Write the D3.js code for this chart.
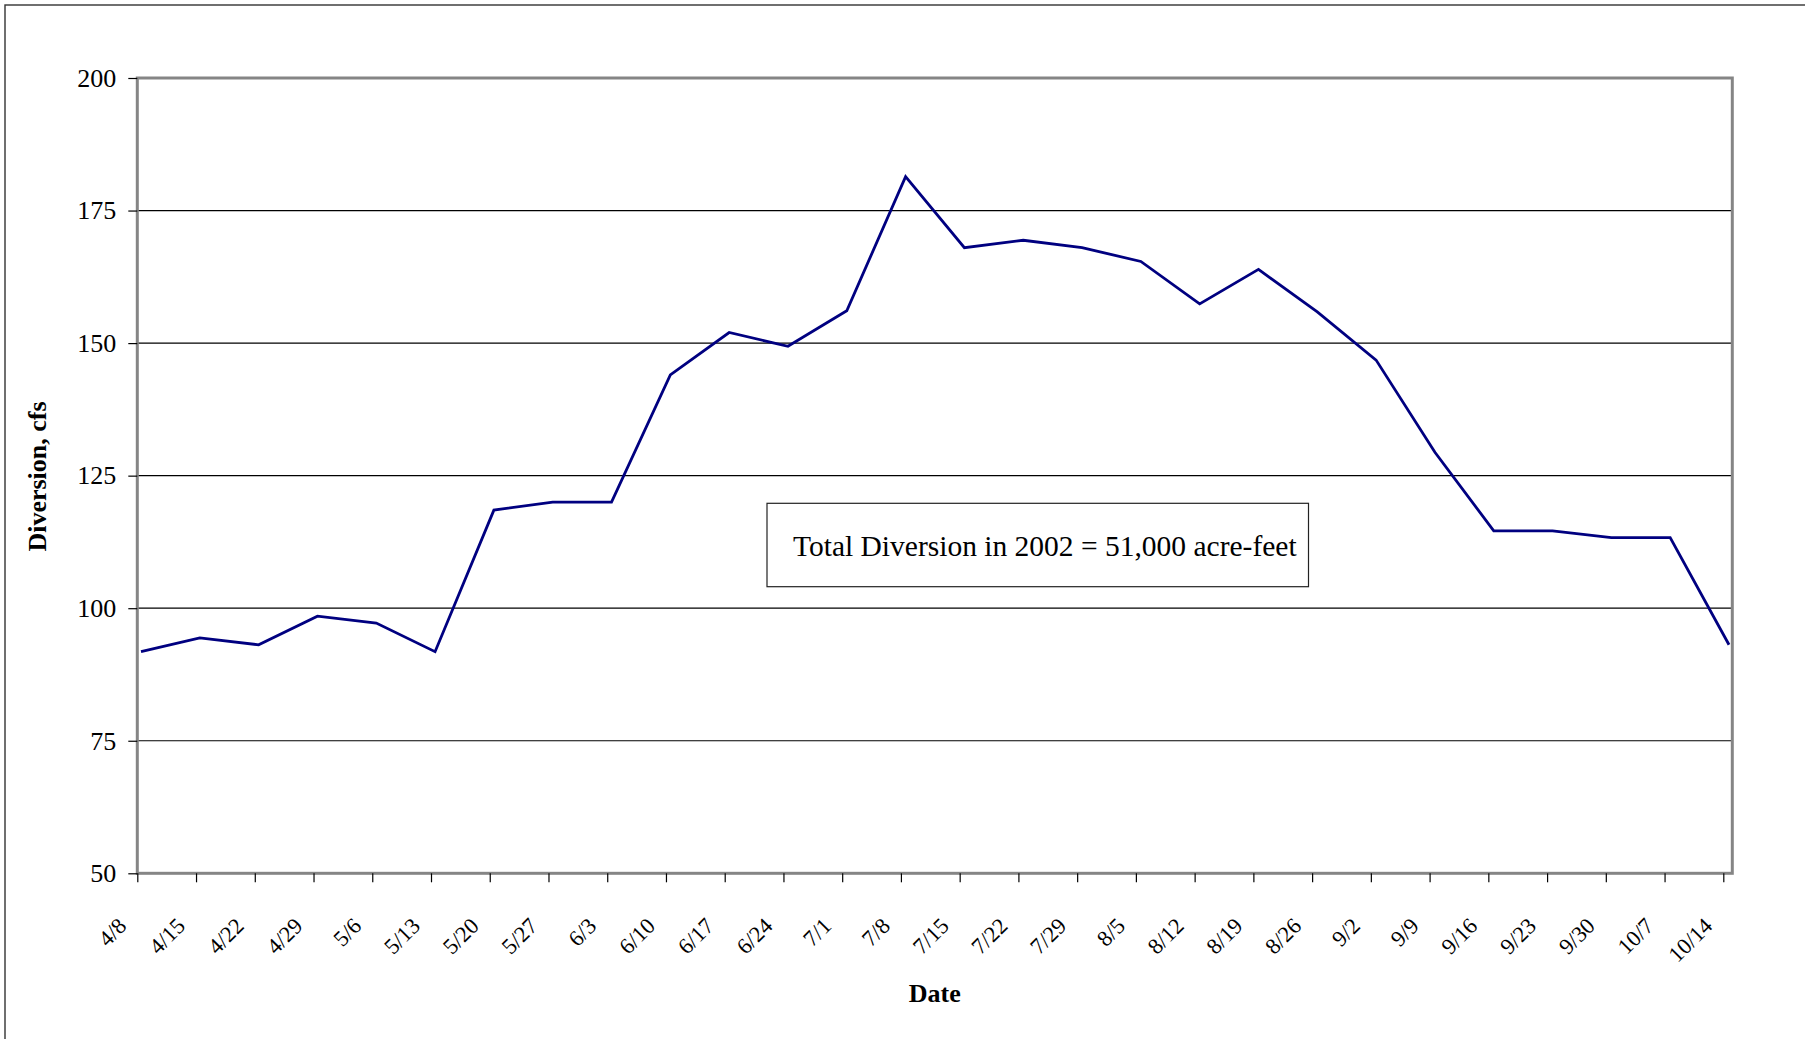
<!DOCTYPE html>
<html>
<head>
<meta charset="utf-8">
<script src="https://cdn.jsdelivr.net/npm/d3@7"></script>
<style>
  html, body { margin: 0; padding: 0; background: #fff; }
  svg { display: block; }
  text { font-family: "Liberation Serif", "Times New Roman", serif; fill: #000; }
</style>
</head>
<body>
<svg id="chart" width="1805" height="1039"></svg>
<script>
const categories = ["4/8","4/15","4/22","4/29","5/6","5/13","5/20","5/27","6/3","6/10","6/17","6/24","7/1","7/8","7/15","7/22","7/29","8/5","8/12","8/19","8/26","9/2","9/9","9/16","9/23","9/30","10/7","10/14"];
const diversion = [91.8, 94.4, 93.1, 98.5, 97.2, 91.8, 118.5, 120, 120, 144, 152, 149.4, 156.1, 181.4, 168, 169.4, 168, 165.4, 157.4, 163.9, 155.9, 146.8, 129.4, 114.6, 114.6, 113.3, 113.3, 93.1];
const yTicks = [50, 75, 100, 125, 150, 175, 200];
const yDomain = [50, 200];
const xTitle = "Date";
const yTitle = "Diversion, cfs";
const noteText = "Total Diversion in 2002 = 51,000 acre-feet";

const svg = d3.select("#chart");
const plot = { left: 137.3, right: 1732.3, top: 78, bottom: 873.3 };

// outer chart frame (cropped at right/bottom)
svg.append("rect")
  .attr("x", 5).attr("y", 5).attr("width", 1820).attr("height", 1060)
  .attr("fill", "none").attr("stroke", "#333").attr("stroke-width", 1.4);

const y = d3.scaleLinear().domain(yDomain).range([plot.bottom, plot.top]);
const x = d3.scalePoint().domain(categories).range([141, 1729]);
const xTick = d3.scalePoint().domain(categories).range([137.3, 1723.3]);

// gridlines
svg.append("g").selectAll("line")
  .data(yTicks.filter(v => v > yDomain[0] && v < yDomain[1]))
  .join("line")
  .attr("x1", plot.left).attr("x2", plot.right)
  .attr("y1", d => y(d)).attr("y2", d => y(d))
  .attr("stroke", "#000").attr("stroke-width", 1.2);

// plot border
svg.append("rect")
  .attr("x", plot.left).attr("y", plot.top)
  .attr("width", plot.right - plot.left).attr("height", plot.bottom - plot.top)
  .attr("fill", "none").attr("stroke", "#858585").attr("stroke-width", 3);

// y axis
const yAxis = svg.append("g")
  .attr("transform", `translate(${plot.left},0)`)
  .call(d3.axisLeft(y).tickValues(yTicks).tickSize(9).tickPadding(12).tickFormat(d3.format("d")));
yAxis.select(".domain").remove();
yAxis.selectAll("line").attr("stroke", "#000").attr("stroke-width", 1.2);
yAxis.selectAll("text")
  .attr("font-family", "'Liberation Serif', 'Times New Roman', serif")
  .attr("font-size", 26).attr("fill", "#000");

// x axis
const xAxis = svg.append("g")
  .attr("transform", `translate(0,${plot.bottom})`)
  .call(d3.axisBottom(xTick).tickSize(9));
xAxis.select(".domain").remove();
xAxis.selectAll("line").attr("stroke", "#000").attr("stroke-width", 1.2);
xAxis.selectAll("text")
  .attr("font-family", "'Liberation Serif', 'Times New Roman', serif")
  .attr("font-size", 22.5).attr("fill", "#000")
  .attr("x", 0).attr("y", 0).attr("dy", 0)
  .attr("text-anchor", "end")
  .attr("transform", "translate(-10,54) rotate(-45)");

// data line
const line = d3.line()
  .x((d, i) => x(categories[i]))
  .y(d => y(d));
svg.append("path")
  .datum(diversion)
  .attr("d", line)
  .attr("fill", "none")
  .attr("stroke", "#000080")
  .attr("stroke-width", 2.8)
  .attr("stroke-linejoin", "miter");

// annotation box
svg.append("rect")
  .attr("x", 767).attr("y", 503.3).attr("width", 541.5).attr("height", 83.4)
  .attr("fill", "#fff").attr("stroke", "#222").attr("stroke-width", 1.2);
svg.append("text")
  .attr("x", 793).attr("y", 556)
  .attr("font-size", 29.5)
  .text(noteText);

// axis titles
svg.append("text")
  .attr("x", (plot.left + plot.right) / 2).attr("y", 1001.7)
  .attr("text-anchor", "middle")
  .attr("font-size", 26).attr("font-weight", "bold")
  .text(xTitle);
svg.append("text")
  .attr("transform", "translate(46,476.5) rotate(-90)")
  .attr("text-anchor", "middle")
  .attr("font-size", 26).attr("font-weight", "bold")
  .text(yTitle);
</script>
</body>
</html>
